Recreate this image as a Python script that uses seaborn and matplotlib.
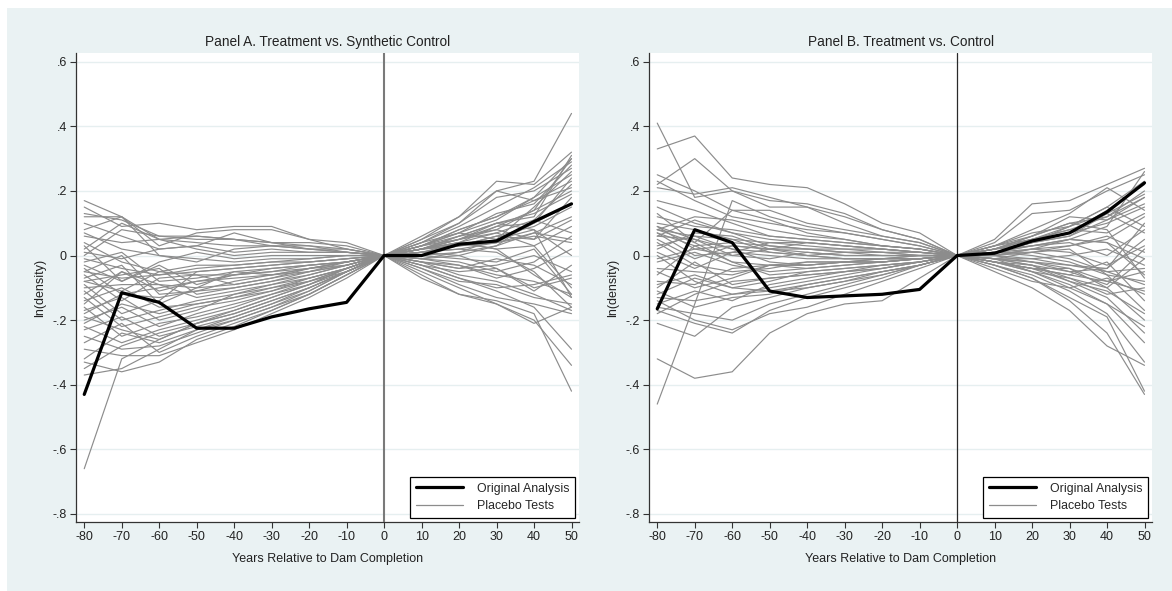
import numpy as np
import pandas as pd
import matplotlib
matplotlib.use("Agg")
import matplotlib.pyplot as plt
from matplotlib.lines import Line2D
from matplotlib.patches import Rectangle
import seaborn as sns

sns.set_theme(style="white")
plt.rcParams["font.family"] = ["Liberation Sans", "DejaVu Sans"]

years = [-80, -70, -60, -50, -40, -30, -20, -10, 0, 10, 20, 30, 40, 50]

# Estimated effect for the treated sample
original_a = [-0.43, -0.115, -0.145, -0.225, -0.225, -0.19, -0.165, -0.145, 0, 0.0, 0.035, 0.045, 0.105, 0.16]
original_b = [-0.165, 0.08, 0.04, -0.11, -0.13, -0.125, -0.12, -0.105, 0, 0.007, 0.045, 0.07, 0.135, 0.225]

# Placebo estimates, one row per placebo unit (Panel A: synthetic control)
placebo_a = [
    [0.17, 0.12, 0.05, 0.04, 0.03, 0.03, 0.02, 0.01, 0, 0.03, 0.08, 0.12, 0.18, 0.30],
    [0.15, 0.09, 0.10, 0.08, 0.09, 0.09, 0.05, 0.04, 0, 0.05, 0.12, 0.23, 0.22, 0.32],
    [0.13, 0.11, 0.06, 0.05, 0.05, 0.04, 0.04, 0.03, 0, 0.02, 0.06, 0.10, 0.08, -0.13],
    [0.12, 0.12, 0.03, 0.07, 0.08, 0.08, 0.05, 0.02, 0, 0.04, 0.10, 0.20, 0.23, 0.44],
    [0.10, 0.06, 0.02, 0.03, 0.07, 0.04, 0.02, 0.01, 0, -0.01, -0.03, -0.06, -0.08, -0.12],
    [0.08, 0.12, 0.00, -0.02, 0.02, 0.03, 0.03, 0.01, 0, 0.03, 0.07, 0.05, 0.15, 0.26],
    [0.06, 0.04, 0.05, 0.02, 0.00, 0.01, 0.01, 0.01, 0, 0.01, 0.02, 0.01, -0.05, -0.16],
    [0.04, -0.02, -0.05, -0.03, -0.03, -0.02, -0.01, 0.00, 0, 0.02, 0.04, 0.07, 0.11, 0.22],
    [0.02, 0.10, 0.05, 0.06, 0.05, 0.03, 0.02, 0.02, 0, -0.03, -0.07, -0.11, -0.16, -0.29],
    [0.00, 0.08, 0.06, 0.06, 0.05, 0.04, 0.03, 0.02, 0, 0.02, 0.05, 0.09, 0.14, 0.20],
    [-0.01, -0.04, -0.06, -0.05, -0.04, -0.03, -0.02, -0.01, 0, 0.01, 0.03, 0.04, 0.06, 0.04],
    [-0.02, 0.01, -0.08, -0.07, -0.05, -0.04, -0.03, -0.02, 0, -0.02, -0.04, -0.03, 0.00, -0.05],
    [-0.03, -0.08, -0.03, -0.09, -0.06, -0.05, -0.03, -0.02, 0, 0.03, 0.06, 0.08, 0.05, 0.18],
    [-0.04, -0.12, -0.10, -0.08, -0.07, -0.06, -0.04, -0.02, 0, 0.00, 0.01, 0.03, 0.07, 0.12],
    [-0.05, 0.00, -0.12, -0.11, -0.08, -0.06, -0.05, -0.02, 0, -0.01, -0.02, -0.05, -0.02, 0.06],
    [-0.06, -0.14, -0.07, -0.06, -0.09, -0.07, -0.04, -0.03, 0, 0.02, 0.03, 0.04, 0.10, 0.24],
    [-0.07, -0.03, -0.15, -0.10, -0.05, -0.06, -0.04, -0.02, 0, -0.02, -0.06, -0.08, -0.12, -0.17],
    [-0.08, -0.06, -0.04, -0.12, -0.10, -0.08, -0.05, -0.03, 0, 0.04, 0.07, 0.13, 0.16, 0.28],
    [-0.09, -0.18, -0.14, -0.05, -0.04, -0.03, -0.02, -0.01, 0, -0.03, -0.05, -0.04, -0.10, -0.07],
    [-0.10, -0.09, -0.09, -0.13, -0.11, -0.09, -0.06, -0.03, 0, 0.01, 0.04, 0.02, 0.03, 0.09],
    [-0.11, -0.20, -0.17, -0.14, -0.12, -0.10, -0.07, -0.04, 0, 0.03, 0.05, 0.07, 0.03, -0.10],
    [-0.12, -0.05, -0.11, -0.08, -0.06, -0.05, -0.04, -0.02, 0, -0.04, -0.09, -0.13, -0.15, -0.18],
    [-0.13, -0.22, -0.19, -0.16, -0.14, -0.11, -0.07, -0.04, 0, 0.02, 0.06, 0.10, 0.12, 0.31],
    [-0.14, -0.10, -0.16, -0.15, -0.13, -0.10, -0.08, -0.04, 0, -0.01, 0.01, 0.05, 0.08, 0.00],
    [-0.16, -0.25, -0.21, -0.19, -0.16, -0.12, -0.08, -0.05, 0, 0.02, 0.04, 0.02, -0.06, -0.13],
    [-0.17, -0.13, -0.20, -0.17, -0.12, -0.09, -0.07, -0.04, 0, 0.05, 0.10, 0.18, 0.20, 0.27],
    [-0.19, -0.23, -0.26, -0.21, -0.18, -0.14, -0.10, -0.05, 0, -0.02, -0.03, -0.07, -0.04, 0.02],
    [-0.20, -0.16, -0.22, -0.18, -0.15, -0.12, -0.09, -0.04, 0, 0.01, 0.03, 0.06, 0.09, 0.15],
    [-0.22, -0.27, -0.23, -0.20, -0.17, -0.13, -0.09, -0.05, 0, -0.05, -0.10, -0.15, -0.20, -0.34],
    [-0.23, -0.19, -0.25, -0.22, -0.19, -0.15, -0.11, -0.05, 0, 0.03, 0.08, 0.12, 0.17, 0.23],
    [-0.25, -0.29, -0.28, -0.24, -0.20, -0.16, -0.11, -0.05, 0, -0.03, -0.07, -0.10, -0.09, -0.06],
    [-0.27, -0.21, -0.30, -0.25, -0.21, -0.17, -0.12, -0.06, 0, 0.04, 0.09, 0.15, 0.21, 0.29],
    [-0.29, -0.31, -0.31, -0.27, -0.23, -0.18, -0.13, -0.07, 0, -0.06, -0.12, -0.14, -0.18, -0.42],
    [-0.32, -0.24, -0.27, -0.23, -0.20, -0.16, -0.12, -0.06, 0, 0.00, -0.01, -0.02, 0.02, -0.12],
    [-0.33, -0.36, -0.33, -0.26, -0.22, -0.17, -0.12, -0.06, 0, 0.02, 0.05, 0.10, 0.13, 0.19],
    [-0.35, -0.28, -0.24, -0.21, -0.18, -0.14, -0.10, -0.05, 0, -0.02, -0.04, -0.01, -0.03, -0.09],
    [-0.37, -0.35, -0.29, -0.23, -0.19, -0.15, -0.10, -0.05, 0, 0.01, 0.02, 0.04, 0.07, 0.05],
    [-0.66, -0.32, -0.26, -0.21, -0.17, -0.13, -0.09, -0.04, 0, 0.03, 0.07, 0.11, 0.18, 0.25],
    [0.07, 0.02, 0.00, -0.01, -0.02, -0.01, -0.01, 0.00, 0, -0.04, -0.08, -0.09, -0.13, -0.15],
    [0.03, -0.08, -0.02, 0.01, -0.01, 0.00, 0.00, 0.00, 0, 0.02, 0.04, 0.09, 0.10, 0.16],
    [-0.05, -0.07, -0.06, -0.04, -0.03, -0.02, -0.02, -0.01, 0, -0.07, -0.12, -0.15, -0.21, -0.16],
    [-0.15, -0.05, -0.09, -0.10, -0.09, -0.07, -0.05, -0.03, 0, 0.06, 0.12, 0.20, 0.17, 0.21],
    [-0.18, -0.12, -0.13, -0.11, -0.10, -0.08, -0.06, -0.03, 0, 0.01, 0.00, -0.04, -0.11, -0.03],
    [-0.21, -0.15, -0.18, -0.15, -0.13, -0.11, -0.08, -0.04, 0, 0.02, 0.03, 0.06, 0.05, 0.11],
    [0.01, -0.01, 0.02, 0.03, 0.01, 0.02, 0.01, 0.01, 0, -0.01, 0.00, 0.03, 0.11, 0.07],
    [-0.08, -0.11, -0.05, -0.06, -0.06, -0.04, -0.03, -0.02, 0, 0.02, 0.05, 0.08, 0.14, 0.30],
]

# Placebo estimates, one row per placebo unit (Panel B: raw control)
placebo_b = [
    [0.41, 0.18, 0.20, 0.17, 0.16, 0.13, 0.08, 0.05, 0, 0.05, 0.16, 0.17, 0.22, 0.27],
    [0.33, 0.37, 0.24, 0.22, 0.21, 0.16, 0.10, 0.07, 0, 0.04, 0.13, 0.14, 0.20, 0.25],
    [0.22, 0.30, 0.20, 0.15, 0.15, 0.12, 0.08, 0.05, 0, 0.02, 0.06, 0.10, 0.08, -0.07],
    [0.25, 0.20, 0.14, 0.14, 0.10, 0.08, 0.06, 0.04, 0, 0.03, 0.08, 0.13, 0.21, 0.14],
    [0.23, 0.17, 0.12, 0.10, 0.08, 0.07, 0.05, 0.03, 0, -0.02, -0.05, -0.09, -0.15, -0.27],
    [0.21, 0.19, 0.21, 0.18, 0.15, 0.10, 0.06, 0.04, 0, 0.02, 0.05, 0.08, 0.12, 0.18],
    [0.17, 0.14, 0.10, 0.06, 0.05, 0.04, 0.03, 0.02, 0, -0.03, -0.07, -0.13, -0.19, -0.42],
    [0.15, 0.10, 0.07, 0.03, 0.02, 0.02, 0.01, 0.01, 0, 0.01, 0.04, 0.07, 0.14, 0.22],
    [0.13, 0.04, 0.14, 0.11, 0.07, 0.05, 0.03, 0.02, 0, 0.01, 0.00, -0.02, -0.06, -0.08],
    [0.10, 0.08, 0.05, 0.04, 0.03, 0.02, 0.02, 0.01, 0, -0.01, -0.03, -0.05, -0.04, 0.05],
    [0.09, 0.02, 0.03, 0.02, 0.04, 0.03, 0.02, 0.01, 0, 0.02, 0.03, 0.05, 0.09, 0.26],
    [0.08, 0.06, 0.02, 0.01, 0.00, 0.01, 0.00, 0.00, 0, -0.01, -0.02, -0.04, -0.08, -0.11],
    [0.07, 0.03, 0.04, 0.03, 0.02, 0.01, 0.01, 0.00, 0, 0.01, 0.02, 0.03, 0.05, 0.12],
    [0.06, 0.05, 0.00, -0.01, 0.01, 0.00, 0.00, 0.00, 0, 0.00, -0.01, 0.00, 0.02, -0.03],
    [0.05, -0.01, 0.03, 0.02, 0.00, -0.01, -0.01, 0.00, 0, -0.02, -0.04, -0.08, -0.11, -0.18],
    [0.08, 0.04, -0.02, -0.03, -0.02, -0.02, -0.01, -0.01, 0, 0.01, 0.04, 0.09, 0.15, 0.09],
    [0.07, 0.00, 0.01, 0.00, -0.01, -0.01, -0.01, -0.01, 0, 0.00, 0.02, 0.01, -0.03, 0.03],
    [0.02, 0.07, 0.06, 0.02, 0.01, 0.00, 0.00, 0.00, 0, -0.01, -0.05, -0.10, -0.15, -0.22],
    [-0.02, 0.01, -0.03, -0.05, -0.04, -0.03, -0.02, -0.01, 0, 0.03, 0.07, 0.09, 0.13, 0.19],
    [-0.04, -0.05, -0.06, -0.03, -0.03, -0.02, -0.02, -0.01, 0, -0.02, -0.04, -0.06, -0.02, -0.14],
    [-0.06, 0.03, -0.02, -0.06, -0.05, -0.04, -0.03, -0.02, 0, 0.01, 0.03, 0.04, 0.00, 0.08],
    [-0.08, -0.09, -0.04, -0.03, -0.04, -0.03, -0.02, -0.01, 0, -0.03, -0.06, -0.11, -0.18, -0.33],
    [-0.10, -0.02, -0.09, -0.07, -0.06, -0.05, -0.04, -0.02, 0, 0.02, 0.05, 0.08, 0.07, 0.13],
    [-0.12, -0.07, -0.10, -0.08, -0.05, -0.04, -0.03, -0.02, 0, -0.02, -0.05, -0.07, -0.10, -0.20],
    [-0.13, -0.14, -0.12, -0.10, -0.08, -0.06, -0.04, -0.02, 0, 0.01, 0.01, 0.03, 0.06, 0.01],
    [-0.15, -0.11, -0.14, -0.09, -0.07, -0.05, -0.04, -0.02, 0, -0.01, -0.02, -0.03, -0.05, -0.09],
    [-0.16, -0.18, -0.20, -0.15, -0.12, -0.09, -0.06, -0.03, 0, -0.03, -0.07, -0.14, -0.24, -0.43],
    [-0.17, -0.21, -0.24, -0.17, -0.13, -0.10, -0.07, -0.03, 0, 0.02, 0.04, 0.06, 0.11, 0.16],
    [-0.21, -0.25, -0.16, -0.13, -0.10, -0.08, -0.05, -0.03, 0, -0.05, -0.10, -0.17, -0.28, -0.34],
    [-0.14, -0.20, -0.23, -0.18, -0.16, -0.12, -0.08, -0.04, 0, -0.02, -0.04, -0.06, -0.08, -0.05],
    [-0.32, -0.38, -0.36, -0.24, -0.18, -0.15, -0.14, -0.07, 0, 0.00, 0.02, 0.05, 0.04, -0.01],
    [-0.46, -0.15, 0.17, 0.12, 0.09, 0.07, 0.05, 0.03, 0, 0.03, 0.06, 0.10, 0.12, 0.20],
    [-0.18, -0.12, -0.08, -0.07, -0.06, -0.05, -0.03, -0.02, 0, -0.01, 0.01, 0.02, -0.06, -0.17],
    [0.12, 0.09, 0.08, 0.06, 0.05, 0.04, 0.03, 0.02, 0, -0.02, -0.04, -0.04, -0.10, -0.01],
    [0.04, -0.03, -0.05, -0.04, -0.02, -0.02, -0.01, -0.01, 0, 0.02, 0.05, 0.07, 0.10, 0.15],
    [0.00, -0.08, -0.12, -0.11, -0.09, -0.07, -0.05, -0.03, 0, -0.01, -0.03, -0.08, -0.13, -0.24],
    [0.06, 0.11, 0.07, 0.05, 0.04, 0.03, 0.02, 0.01, 0, 0.01, 0.03, 0.05, 0.04, -0.06],
    [-0.09, -0.06, -0.10, -0.11, -0.10, -0.08, -0.06, -0.03, 0, 0.02, 0.06, 0.12, 0.11, 0.18],
    [-0.11, -0.16, -0.13, -0.12, -0.09, -0.07, -0.05, -0.03, 0, -0.04, -0.08, -0.10, -0.07, -0.12],
    [0.03, 0.06, 0.05, 0.01, 0.00, -0.01, -0.01, 0.00, 0, 0.00, -0.02, -0.05, -0.09, 0.02],
    [0.09, 0.05, 0.02, -0.02, -0.03, -0.02, -0.02, -0.01, 0, -0.01, -0.01, -0.03, -0.04, 0.10],
    [0.08, 0.12, 0.11, 0.08, 0.06, 0.05, 0.03, 0.02, 0, 0.01, 0.04, 0.06, 0.13, 0.07],
    [-0.01, 0.02, 0.00, 0.02, 0.02, 0.01, 0.01, 0.00, 0, 0.00, 0.01, -0.01, -0.05, -0.04],
    [-0.05, -0.10, -0.07, -0.03, -0.03, -0.02, -0.02, -0.01, 0, -0.02, -0.03, -0.07, -0.12, -0.10],
    [0.01, -0.04, 0.01, 0.04, 0.04, 0.03, 0.02, 0.01, 0, 0.03, 0.05, 0.09, 0.15, 0.23],
]

titles = ["Panel A. Treatment vs. Synthetic Control", "Panel B. Treatment vs. Control"]
x_label = "Years Relative to Dam Completion"
y_label = "ln(density)"
y_ticks = [-0.8, -0.6, -0.4, -0.2, 0, 0.2, 0.4, 0.6]
y_ticklabels = ["-.8", "-.6", "-.4", "-.2", "0", ".2", ".4", ".6"]
legend_labels = ["Original Analysis", "Placebo Tests"]


def long_frame(rows):
    recs = []
    for i, row in enumerate(rows):
        for yr, v in zip(years, row):
            recs.append({"unit": i, "year": yr, "value": v})
    return pd.DataFrame(recs)


BG = "#eaf2f3"
GRAY = "#8c8c8c"

fig = plt.figure(figsize=(11.72, 5.91), dpi=100, facecolor="white")
W, H = 1172, 591
fig.patches.append(Rectangle((7 / W, 0), 1 - 7 / W, 1 - 8 / H, transform=fig.transFigure,
                             facecolor=BG, edgecolor="none", zorder=-10))

ax_boxes = [(76, 579), (649, 1152)]
top_px, bot_px = 53, 522
axes = []
for (l, r) in ax_boxes:
    ax = fig.add_axes([l / W, 1 - bot_px / H, (r - l) / W, (bot_px - top_px) / H])
    axes.append(ax)

panels = [(original_a, placebo_a, "#7a7a7a", 1.5), (original_b, placebo_b, "#2a2a2a", 0.9)]

for ax, title, (orig, plac, vcol, vlw) in zip(axes, titles, panels):
    ax.set_facecolor("white")
    for yt in y_ticks:
        ax.axhline(yt, color="#e6eff0", lw=1.0, zorder=0)
    dfp = long_frame(plac)
    sns.lineplot(data=dfp, x="year", y="value", units="unit", estimator=None,
                 color=GRAY, lw=0.85, ax=ax, legend=False, zorder=2)
    ax.axvline(0, color=vcol, lw=vlw, zorder=3)
    dfo = pd.DataFrame({"year": years, "value": orig})
    sns.lineplot(data=dfo, x="year", y="value", color="black", lw=2.3, ax=ax,
                 legend=False, zorder=4)

    ax.set_xlim(-82.2, 52.0)
    ax.set_ylim(-0.825, 0.627)
    ax.set_xticks(list(range(-80, 51, 10)))
    ax.set_xticklabels([str(v) for v in range(-80, 51, 10)])
    ax.set_yticks(y_ticks)
    ax.set_yticklabels(y_ticklabels)
    ax.tick_params(axis="both", which="major", direction="out", length=4.5, width=0.8,
                   color="#333333", labelsize=9.0, labelcolor="#222222", pad=2,
                   bottom=True, left=True)
    for side in ["top", "right"]:
        ax.spines[side].set_visible(False)
    for side in ["left", "bottom"]:
        ax.spines[side].set_color("#333333")
        ax.spines[side].set_linewidth(0.9)
    ax.set_title(title, fontsize=9.8, color="#222222", pad=5)
    ax.set_xlabel(x_label, fontsize=9.0, color="#222222", labelpad=7)
    ax.set_ylabel(y_label, fontsize=9.0, color="#222222", labelpad=5)

    handles = [Line2D([0], [0], color="black", lw=2.3),
               Line2D([0], [0], color=GRAY, lw=0.9)]
    leg = ax.legend(handles, legend_labels, loc="lower right", bbox_to_anchor=(0.993, 0.009),
                    borderaxespad=0, frameon=True, fancybox=False, fontsize=8.9,
                    handlelength=3.8, handletextpad=1.2, borderpad=0.45, labelspacing=0.45)
    leg.get_frame().set_edgecolor("black")
    leg.get_frame().set_linewidth(0.9)
    leg.get_frame().set_facecolor("white")
    leg.get_frame().set_alpha(1)
    leg.set_zorder(6)

fig.savefig("out.png", dpi=100, facecolor=fig.get_facecolor())
